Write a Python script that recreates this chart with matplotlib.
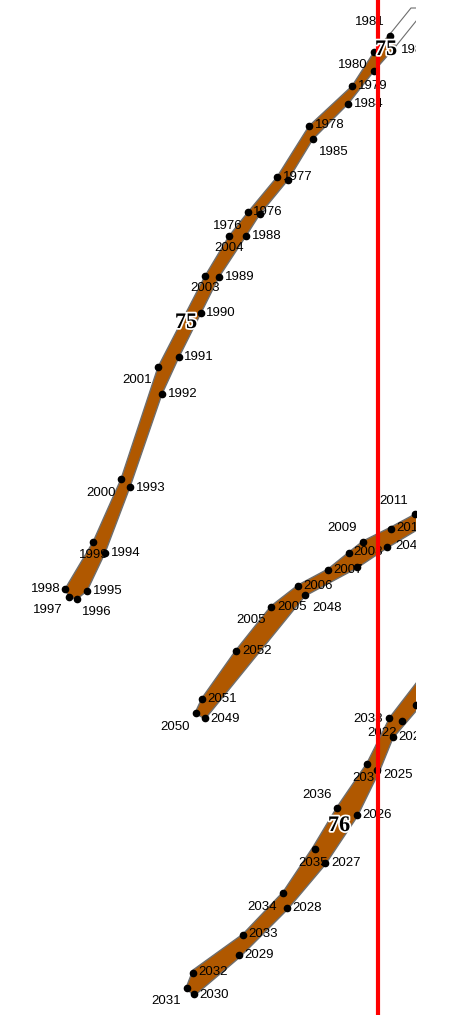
import matplotlib.pyplot as plt
from matplotlib.patches import Polygon
import matplotlib.patheffects as pe

# outline of each band (picture coordinates, y grows downwards)
band75_x = [390, 374, 352, 309, 277, 248, 229, 205, 158, 121, 93, 65, 69, 77,
            87, 105, 130, 162, 179, 201, 219, 246, 260, 288, 313, 348, 374, 396]
band75_y = [34, 52, 86, 126, 177, 212, 236, 276, 367, 479, 542, 589, 597, 599,
            591, 553, 487, 394, 357, 313, 277, 236, 214, 180, 139, 104, 71, 46]

empty_x = [390, 411, 425, 425, 396]
empty_y = [34, 8, 8, 10, 46]

band2_x = [440, 417, 391, 363, 349, 328, 298, 271, 236, 202, 195,
           205, 305, 357, 387, 417, 440]
band2_y = [500, 513, 527, 541, 552, 569, 585, 606, 650, 698, 713,
           719, 596, 568, 548, 530, 518]

band76_x = [440, 417, 390, 367, 337, 313, 293, 283, 243, 193, 186,
            194, 240, 287, 325, 357, 380, 393, 417, 440]
band76_y = [660, 682, 717, 763, 807, 847, 877, 892, 934, 970, 988,
            996, 957, 910, 865, 817, 770, 738, 710, 685]

# sample points
pts_x = [390, 374, 374, 352, 348, 309, 313, 277, 288, 248, 260, 229, 246, 205,
         219, 201, 179, 158, 162, 121, 130, 93, 105, 65, 69, 77, 87,
         415, 391, 387, 363, 349, 357, 328, 298, 305, 271, 236, 202, 196, 205,
         416, 389, 402, 393, 367, 377, 337, 357, 315, 325, 283, 287, 243, 239,
         193, 187, 194]
pts_y = [36, 52, 71, 86, 104, 126, 139, 177, 180, 212, 214, 236, 236, 276,
         277, 313, 357, 367, 394, 479, 487, 542, 553, 589, 597, 599, 591,
         514, 529, 547, 542, 553, 567, 570, 586, 595, 607, 651, 699, 713, 718,
         705, 718, 721, 737, 764, 770, 808, 815, 849, 863, 893, 908, 935, 955,
         973, 988, 994]

# year labels and where they sit
years = ['1981', '1980', '1982', '1979', '1984', '1978', '1985', '1977', '1976',
         '1976', '2004', '1988', '1989', '2003', '1990', '1991', '2001', '1992',
         '1993', '2000', '1999', '1994', '1998', '1997', '1996', '1995',
         '2011', '2010', '2046', '2009', '2008', '2007', '2006', '2005', '2048',
         '2005', '2052', '2051', '2049', '2050',
         '2038', '2022', '2024', '2037', '2025', '2036', '2026', '2035', '2027',
         '2034', '2028', '2033', '2029', '2032', '2031', '2030']
year_x = [370, 353, 416, 373, 369, 330, 334, 298, 268, 228, 229, 267, 239.5, 205,
          221, 199, 137, 183, 151, 101, 94, 126, 46, 48, 97, 108,
          394, 411.5, 410, 342, 368, 348, 318.5, 292, 327, 251, 257, 222, 225.5,
          175.5,
          368.5, 382, 413, 367, 398, 317, 377.5, 313.5, 346, 262, 307, 263,
          259.5, 213.5, 166, 214.5]
year_y = [22, 65, 50, 86, 104, 125, 152, 177, 212, 226, 248, 236, 277, 288,
          313, 357, 380, 394, 488, 493, 555, 553, 589, 610, 612, 591,
          501, 528, 546, 528, 552, 570, 586, 607, 608, 620, 651, 699, 719, 727,
          719, 733, 737, 778, 775, 795, 815, 863, 863, 907, 908, 934, 955,
          972, 1001, 995]

levels = ['75', '75', '76']
level_x = [386, 186, 339]
level_y = [50, 323, 826]

red_x = 378

fig = plt.figure(figsize=(4.5, 10.17), dpi=100)
ax = fig.add_axes([0, 2 / 1017, 416 / 450, 1015 / 1017])
ax.set_xlim(0, 416)
ax.set_ylim(1015, 0)
ax.axis('off')

fill = '#b05800'
edge = '#6e6e6e'
for bx, by in [(band75_x, band75_y), (band2_x, band2_y), (band76_x, band76_y)]:
    ax.add_patch(Polygon(list(zip(bx, by)), closed=True, facecolor=fill,
                         edgecolor=edge, linewidth=1, zorder=1))
ax.add_patch(Polygon(list(zip(empty_x, empty_y)), closed=True, facecolor='white',
                     edgecolor=edge, linewidth=0.8, zorder=1))

ax.plot(pts_x, pts_y, 'o', color='black', markersize=4.5, zorder=2)

for t, x, y in zip(years, year_x, year_y):
    ax.text(x, y, t, ha='center', va='center', fontsize=9.5,
            family='Liberation Sans', color='black', zorder=3, clip_on=True)

ax.axvline(red_x, color='red', linewidth=3, zorder=4)

for t, x, y in zip(levels, level_x, level_y):
    ax.text(x, y, t, ha='center', va='center', fontsize=16, fontweight='bold',
            family='Liberation Serif', color='black', zorder=5, clip_on=True,
            path_effects=[pe.withStroke(linewidth=2.5, foreground='white')])

fig.savefig('out.png', dpi=100)
